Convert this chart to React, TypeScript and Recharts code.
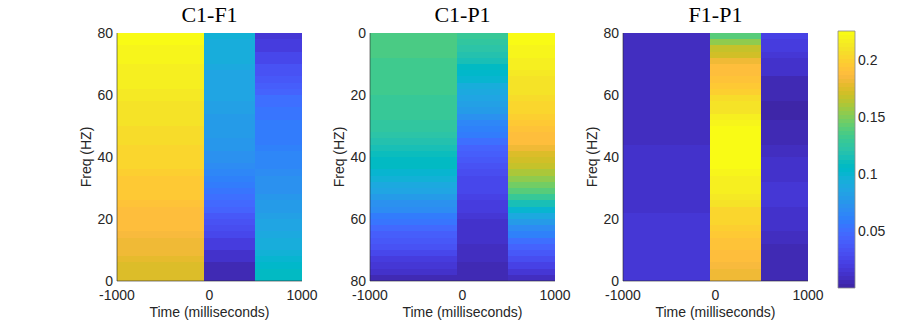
import React from 'react';
import { ComposedChart, XAxis, YAxis, ReferenceArea } from 'recharts';

// time windows (ms) and frequency bins (Hz)
const TIME_EDGES = [-1000, -60, 490, 1000];
const FREQ_LO = [0, 2, 4, 6, 8, 10, 12, 14, 16, 18, 20, 22, 24, 26, 28, 30, 32, 34, 36, 38,
  40, 42, 44, 46, 48, 50, 52, 54, 56, 58, 60, 62, 64, 66, 68, 70, 72, 74, 76, 78];
const BIN_HZ = 2;
const X_TICKS = [-1000, 0, 1000];
const Y_TICKS = [0, 20, 40, 60, 80];
const CBAR_TICKS = [0.05, 0.1, 0.15, 0.2];
const CMIN = 0.0003;
const CMAX = 0.2255;

// values per frequency bin, low -> high frequency
const C1F1_PRE = [0.174, 0.175, 0.176, 0.178, 0.180, 0.181, 0.183, 0.185, 0.187, 0.188, 0.189, 0.190, 0.192, 0.194, 0.195, 0.196, 0.197, 0.199, 0.201, 0.202,
  0.203, 0.204, 0.205, 0.206, 0.207, 0.208, 0.209, 0.210, 0.211, 0.213, 0.214, 0.215, 0.216, 0.217, 0.218, 0.219, 0.220, 0.221, 0.222, 0.223];
const C1F1_MID = [0.004, 0.006, 0.007, 0.011, 0.014, 0.018, 0.021, 0.025, 0.030, 0.034, 0.039, 0.044, 0.048, 0.051, 0.055, 0.058, 0.062, 0.066, 0.069, 0.071,
  0.074, 0.076, 0.076, 0.078, 0.079, 0.081, 0.081, 0.083, 0.083, 0.085, 0.086, 0.087, 0.088, 0.088, 0.090, 0.092, 0.093, 0.094, 0.095, 0.097];
const C1F1_POST = [0.107, 0.106, 0.104, 0.101, 0.097, 0.094, 0.092, 0.090, 0.088, 0.085, 0.083, 0.079, 0.078, 0.076, 0.074, 0.072, 0.071, 0.069, 0.067, 0.065,
  0.064, 0.062, 0.060, 0.058, 0.058, 0.057, 0.056, 0.055, 0.053, 0.051, 0.046, 0.042, 0.039, 0.035, 0.032, 0.028, 0.025, 0.021, 0.018, 0.016];

const C1P1_PRE = [0.136, 0.136, 0.135, 0.135, 0.134, 0.134, 0.133, 0.132, 0.132, 0.131, 0.130, 0.129, 0.128, 0.127, 0.125, 0.124, 0.122, 0.119, 0.115, 0.111,
  0.108, 0.106, 0.101, 0.096, 0.090, 0.085, 0.080, 0.074, 0.069, 0.060, 0.055, 0.048, 0.042, 0.037, 0.032, 0.027, 0.021, 0.016, 0.011, 0.006];
const C1P1_MID = [0.127, 0.125, 0.122, 0.118, 0.113, 0.108, 0.104, 0.099, 0.093, 0.090, 0.086, 0.083, 0.078, 0.072, 0.067, 0.062, 0.057, 0.051, 0.046, 0.041,
  0.037, 0.034, 0.030, 0.028, 0.027, 0.025, 0.023, 0.020, 0.018, 0.016, 0.014, 0.013, 0.012, 0.011, 0.009, 0.009, 0.008, 0.007, 0.006, 0.006];
const C1P1_POST = [0.224, 0.222, 0.221, 0.219, 0.217, 0.215, 0.213, 0.211, 0.210, 0.208, 0.206, 0.204, 0.202, 0.199, 0.196, 0.193, 0.190, 0.187, 0.182, 0.176,
  0.171, 0.166, 0.160, 0.154, 0.147, 0.138, 0.127, 0.115, 0.102, 0.090, 0.080, 0.070, 0.062, 0.053, 0.044, 0.037, 0.030, 0.023, 0.016, 0.009];

const F1P1_PRE = [0.016, 0.016, 0.016, 0.016, 0.016, 0.016, 0.016, 0.016, 0.016, 0.016, 0.016, 0.013, 0.013, 0.013, 0.013, 0.013, 0.013, 0.013, 0.013, 0.013,
  0.013, 0.013, 0.010, 0.010, 0.010, 0.010, 0.010, 0.010, 0.008, 0.008, 0.008, 0.008, 0.008, 0.008, 0.008, 0.008, 0.008, 0.008, 0.008, 0.008];
const F1P1_MID = [0.181, 0.182, 0.185, 0.188, 0.189, 0.192, 0.193, 0.195, 0.199, 0.201, 0.202, 0.204, 0.209, 0.213, 0.215, 0.217, 0.217, 0.220, 0.222, 0.224,
  0.224, 0.224, 0.224, 0.223, 0.222, 0.221, 0.217, 0.210, 0.208, 0.206, 0.199, 0.196, 0.193, 0.190, 0.188, 0.182, 0.171, 0.167, 0.153, 0.141];
const F1P1_POST = [0.004, 0.004, 0.004, 0.005, 0.006, 0.007, 0.008, 0.009, 0.011, 0.011, 0.014, 0.014, 0.015, 0.016, 0.017, 0.016, 0.013, 0.013, 0.012, 0.011,
  0.009, 0.009, 0.006, 0.006, 0.004, 0.004, 0.003, 0.003, 0.003, 0.004, 0.004, 0.004, 0.006, 0.011, 0.011, 0.014, 0.016, 0.020, 0.021, 0.023];

// MATLAB parula(64)
const PARULA = [
  [0.2422, 0.1504, 0.6603], [0.2504, 0.1650, 0.7076], [0.2578, 0.1818, 0.7511], [0.2647, 0.1978, 0.7952],
  [0.2706, 0.2147, 0.8364], [0.2751, 0.2342, 0.8710], [0.2783, 0.2559, 0.8991], [0.2803, 0.2782, 0.9221],
  [0.2813, 0.3006, 0.9414], [0.2810, 0.3228, 0.9579], [0.2795, 0.3447, 0.9717], [0.2760, 0.3667, 0.9829],
  [0.2699, 0.3892, 0.9906], [0.2602, 0.4123, 0.9952], [0.2440, 0.4358, 0.9988], [0.2206, 0.4603, 0.9973],
  [0.1963, 0.4847, 0.9892], [0.1834, 0.5074, 0.9798], [0.1786, 0.5289, 0.9682], [0.1764, 0.5499, 0.9520],
  [0.1687, 0.5703, 0.9359], [0.1540, 0.5902, 0.9218], [0.1460, 0.6091, 0.9079], [0.1380, 0.6276, 0.8973],
  [0.1248, 0.6459, 0.8883], [0.1113, 0.6635, 0.8763], [0.0952, 0.6798, 0.8598], [0.0689, 0.6948, 0.8394],
  [0.0297, 0.7082, 0.8163], [0.0036, 0.7203, 0.7917], [0.0067, 0.7312, 0.7660], [0.0433, 0.7411, 0.7394],
  [0.0964, 0.7500, 0.7120], [0.1408, 0.7584, 0.6842], [0.1717, 0.7670, 0.6554], [0.1938, 0.7758, 0.6251],
  [0.2161, 0.7843, 0.5923], [0.2470, 0.7918, 0.5567], [0.2906, 0.7973, 0.5188], [0.3406, 0.8008, 0.4789],
  [0.3909, 0.8029, 0.4354], [0.4456, 0.8024, 0.3909], [0.5044, 0.7993, 0.3480], [0.5616, 0.7942, 0.3045],
  [0.6174, 0.7876, 0.2612], [0.6720, 0.7793, 0.2227], [0.7242, 0.7698, 0.1910], [0.7738, 0.7598, 0.1646],
  [0.8203, 0.7498, 0.1535], [0.8634, 0.7406, 0.1596], [0.9035, 0.7330, 0.1774], [0.9393, 0.7288, 0.2100],
  [0.9728, 0.7298, 0.2394], [0.9956, 0.7434, 0.2371], [0.9970, 0.7659, 0.2199], [0.9952, 0.7893, 0.2028],
  [0.9892, 0.8136, 0.1885], [0.9786, 0.8386, 0.1766], [0.9676, 0.8639, 0.1643], [0.9610, 0.8890, 0.1537],
  [0.9597, 0.9135, 0.1423], [0.9628, 0.9373, 0.1265], [0.9691, 0.9606, 0.1064], [0.9769, 0.9839, 0.0805],
];

const rgb = (c: number[]) => `rgb(${Math.round(c[0] * 255)},${Math.round(c[1] * 255)},${Math.round(c[2] * 255)})`;

function colorOf(v: number) {
  let i = Math.floor(((v - CMIN) / (CMAX - CMIN)) * PARULA.length);
  i = Math.max(0, Math.min(PARULA.length - 1, i));
  return rgb(PARULA[i]);
}

const SANS = '"Liberation Sans", Arial, Helvetica, sans-serif';
const INK = '#262626';

// corner points so both axes have data to work on
const EXTENT = [
  { t: -1000, f: 0 },
  { t: 1000, f: 80 },
];
const CBAR_EXTENT = [
  { x: 0, v: CMIN },
  { x: 1, v: CMAX },
];

type PanelProps = {
  title: string;
  plotLeft: number;
  cols: number[][];
  reversed?: boolean;
};

function Panel({ title, plotLeft, cols, reversed = false }: PanelProps) {
  const axisW = 57;
  return (
    <div style={{ position: 'absolute', left: plotLeft - axisW, top: 0 }}>
      <ComposedChart width={262} height={320} data={EXTENT} margin={{ top: 33, right: 20, bottom: 0, left: 0 }}>
        <XAxis
          dataKey="t"
          type="number"
          domain={[-1000, 1000]}
          ticks={X_TICKS}
          interval={0}
          allowDataOverflow
          height={39}
          tickSize={0}
          tickMargin={9}
          axisLine={{ stroke: INK, strokeOpacity: 0.6 }}
          tick={{ fontSize: 14, fill: INK, fontFamily: SANS }}
          label={{ value: 'Time (milliseconds)', position: 'insideBottom', offset: 3, fontSize: 14, fill: INK, fontFamily: SANS }}
        />
        <YAxis
          dataKey="f"
          type="number"
          domain={[0, 80]}
          ticks={Y_TICKS}
          interval={0}
          allowDataOverflow
          reversed={reversed}
          width={axisW}
          tickSize={0}
          tickMargin={4}
          axisLine={{ stroke: INK, strokeOpacity: 0.6 }}
          tick={{ fontSize: 14, fill: INK, fontFamily: SANS }}
          label={{
            value: 'Freq (HZ)', angle: -90, position: 'insideLeft', offset: 26,
            fontSize: 14, fill: INK, fontFamily: SANS, style: { textAnchor: 'middle' },
          }}
        />
        {cols.map((col, c) =>
          col.map((v, r) => (
            <ReferenceArea
              key={`${c}-${r}`}
              x1={TIME_EDGES[c]}
              x2={TIME_EDGES[c + 1]}
              y1={FREQ_LO[r]}
              y2={FREQ_LO[r] + BIN_HZ}
              fill={colorOf(v)}
              fillOpacity={1}
              stroke="none"
              shapeRendering="crispEdges"
            />
          ))
        )}
      </ComposedChart>
      <div
        style={{
          position: 'absolute', left: axisW, width: 185, top: 4, textAlign: 'center',
          fontFamily: '"Liberation Serif", "Times New Roman", serif', fontSize: 22, lineHeight: '22px', color: '#000',
        }}
      >
        {title}
      </div>
    </div>
  );
}

function ColorBar() {
  const n = PARULA.length;
  const step = (CMAX - CMIN) / n;
  return (
    <div style={{ position: 'absolute', left: 830, top: 0 }}>
      <ComposedChart width={70} height={320} data={CBAR_EXTENT} margin={{ top: 31, right: 0, bottom: 32, left: 8 }}>
        <XAxis dataKey="x" type="number" domain={[0, 1]} allowDataOverflow hide />
        <YAxis
          dataKey="v"
          type="number"
          orientation="right"
          domain={[CMIN, CMAX]}
          ticks={CBAR_TICKS}
          interval={0}
          allowDataOverflow
          width={45}
          tickSize={0}
          tickMargin={3}
          axisLine={false}
          tick={{ fontSize: 14, fill: INK, fontFamily: SANS }}
        />
        {PARULA.map((c, i) => (
          <ReferenceArea
            key={i}
            x1={0}
            x2={1}
            y1={CMIN + i * step}
            y2={CMIN + (i + 1) * step}
            fill={rgb(c)}
            fillOpacity={1}
            stroke="none"
            shapeRendering="crispEdges"
          />
        ))}
        <ReferenceArea x1={0} x2={1} y1={CMIN} y2={CMAX} fill="none" stroke="#8c8c8c" strokeWidth={0.8} />
      </ComposedChart>
    </div>
  );
}

export default function App() {
  return (
    <div style={{ position: 'absolute', left: 0, top: 0, width: 900, height: 320, background: '#fff', overflow: 'hidden' }}>
      <Panel title="C1-F1" plotLeft={117} cols={[C1F1_PRE, C1F1_MID, C1F1_POST]} />
      <Panel title="C1-P1" plotLeft={370} cols={[C1P1_PRE, C1P1_MID, C1P1_POST]} reversed />
      <Panel title="F1-P1" plotLeft={623} cols={[F1P1_PRE, F1P1_MID, F1P1_POST]} />
      <ColorBar />
    </div>
  );
}
